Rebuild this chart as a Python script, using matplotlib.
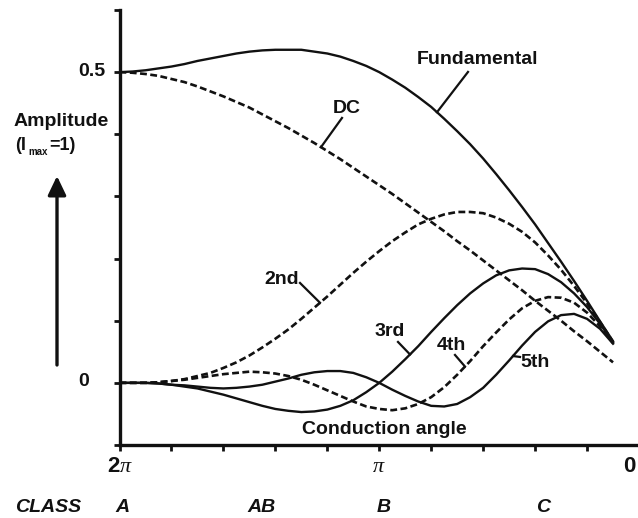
import matplotlib
matplotlib.use("Agg")
import matplotlib.pyplot as plt
import numpy as np
from matplotlib.patches import FancyArrowPatch

plt.rcParams['font.family'] = ['Liberation Sans', 'DejaVu Sans']
plt.rcParams['mathtext.fontset'] = 'custom'
plt.rcParams['mathtext.rm'] = 'Liberation Sans'
plt.rcParams['mathtext.bf'] = 'Liberation Sans:bold'
plt.rcParams['mathtext.it'] = 'Liberation Serif:italic'

W, H = 638, 518

# conduction angle in units of pi (2 pi at left -> 0 at right)
angle = [2.0, 1.95, 1.9, 1.85, 1.8, 1.75, 1.7, 1.65, 1.6, 1.55, 1.5, 1.45, 1.4,
         1.35, 1.3, 1.25, 1.2, 1.15, 1.1, 1.05, 1.0, 0.95, 0.9, 0.85, 0.8, 0.75,
         0.7, 0.65, 0.6, 0.55, 0.5, 0.45, 0.4, 0.35, 0.3, 0.25, 0.2, 0.15, 0.1]

dc = [0.500, 0.499, 0.497, 0.494, 0.489, 0.484, 0.477, 0.469, 0.461, 0.452,
      0.443, 0.432, 0.421, 0.410, 0.398, 0.386, 0.373, 0.360, 0.346, 0.332,
      0.318, 0.304, 0.289, 0.274, 0.259, 0.244, 0.228, 0.213, 0.197, 0.181,
      0.165, 0.149, 0.132, 0.116, 0.100, 0.083, 0.067, 0.050, 0.033]

fundamental = [0.500, 0.501, 0.503, 0.506, 0.509, 0.513, 0.518, 0.522, 0.526,
               0.530, 0.533, 0.535, 0.536, 0.536, 0.536, 0.533, 0.530, 0.525,
               0.518, 0.510, 0.500, 0.488, 0.475, 0.460, 0.444, 0.425, 0.405,
               0.384, 0.361, 0.336, 0.310, 0.283, 0.255, 0.225, 0.195, 0.164,
               0.132, 0.099, 0.067]

second = [0.000, 0.000, 0.000, 0.001, 0.003, 0.006, 0.011, 0.016, 0.024, 0.033,
          0.044, 0.057, 0.071, 0.086, 0.103, 0.121, 0.139, 0.158, 0.177, 0.195,
          0.212, 0.228, 0.242, 0.255, 0.264, 0.271, 0.275, 0.275, 0.273, 0.266,
          0.256, 0.243, 0.226, 0.205, 0.182, 0.156, 0.128, 0.098, 0.066]

third = [0.000, 0.000, 0.000, -0.001, -0.003, -0.006, -0.009, -0.014, -0.019,
         -0.025, -0.031, -0.037, -0.042, -0.045, -0.047, -0.046, -0.043, -0.037,
         -0.028, -0.015, 0.000, 0.018, 0.038, 0.059, 0.082, 0.104, 0.125, 0.144,
         0.160, 0.173, 0.181, 0.184, 0.183, 0.175, 0.162, 0.144, 0.122, 0.095,
         0.065]

fourth = [0.000, 0.000, 0.000, 0.001, 0.003, 0.005, 0.008, 0.011, 0.014, 0.016,
          0.018, 0.017, 0.015, 0.011, 0.005, -0.003, -0.012, -0.021, -0.030,
          -0.038, -0.042, -0.044, -0.041, -0.034, -0.023, -0.007, 0.013, 0.035,
          0.059, 0.081, 0.102, 0.120, 0.132, 0.138, 0.137, 0.129, 0.113, 0.091,
          0.064]

fifth = [0.000, 0.000, 0.000, -0.001, -0.003, -0.004, -0.006, -0.008, -0.009,
         -0.008, -0.006, -0.003, 0.002, 0.007, 0.013, 0.017, 0.019, 0.019, 0.016,
         0.009, 0.000, -0.011, -0.021, -0.030, -0.037, -0.038, -0.034, -0.023,
         -0.008, 0.013, 0.036, 0.060, 0.082, 0.099, 0.109, 0.111, 0.103, 0.087,
         0.063]

x_ticks = [2.0, 1.8, 1.6, 1.4, 1.2, 1.0, 0.8, 0.6, 0.4, 0.2, 0.0]
y_ticks = [-0.1, 0.0, 0.1, 0.2, 0.3, 0.4, 0.5, 0.6]

fig = plt.figure(figsize=(W / 100, H / 100), dpi=100)
ax = fig.add_axes([119.5 / W, 1 - 445 / H, (639 - 119.5) / W, 435 / H])
ax.set_xlim(2.0, 0.0)
ax.set_ylim(-0.1, 0.6)
ax.patch.set_visible(False)

solid = dict(color='#111111', lw=1.7, solid_joinstyle='round')
dashed = dict(color='#111111', lw=1.9, dashes=(2.6, 1.3))

ax.plot(angle, fundamental, **solid)
ax.plot(angle, dc, **dashed)
ax.plot(angle, second, **dashed)
ax.plot(angle, third, **solid)
ax.plot(angle, fourth, **dashed)
ax.plot(angle, fifth, **solid)

for s in ['top', 'right']:
    ax.spines[s].set_visible(False)
for s in ['left', 'bottom']:
    ax.spines[s].set_linewidth(2.4)
    ax.spines[s].set_color('#111111')
ax.set_xticks(x_ticks)
ax.set_yticks(y_ticks)
ax.tick_params(axis='both', direction='out', length=4.5, width=2.0,
               color='#111111', labelleft=False, labelbottom=False)


def px2data(x, y):
    return 2 - (x - 119.5) / 259.75, (382.9 - y) / 621.4


def ftxt(x, y, s, **kw):
    kw.setdefault('fontweight', 'bold')
    kw.setdefault('fontsize', 14)
    kw.setdefault('color', '#111111')
    fig.text(x / W, 1 - y / H, s, **kw)


# curve labels with leader lines
labels = [
    ("Fundamental", fundamental, (477, 60), (468, 72), 437),
    ("DC", dc, (347, 109), (342, 118), 321),
    ("2nd", second, (282, 280), (300, 283), 320),
    ("3rd", third, (390, 332), (398, 342), 410),
    ("4th", fourth, (451, 346), (455, 355), 465),
    ("5th", fifth, (535, 363), (520, 357), 513),
]
for name, series, tpos, lstart, lx in labels:
    tx, ty = px2data(*tpos)
    ax.text(tx, ty, name, ha='center', va='center', fontsize=14,
            fontweight='bold', color='#111111')
    sx, sy = px2data(*lstart)
    ex = px2data(lx, 0)[0]
    ey = np.interp(ex, angle[::-1], series[::-1])
    ax.plot([sx, ex], [sy, ey], color='#111111', lw=1.6, clip_on=False)

ftxt(384, 429, "Conduction angle", ha='center', va='center')

# y tick labels
ftxt(78, 72, "0.5", ha='left', va='center')
ftxt(78, 382, "0", ha='left', va='center')

# x tick labels
ftxt(120, 467, r"2$\pi$", ha='center', va='center', fontsize=16)
ftxt(379, 467, r"$\pi$", ha='center', va='center', fontsize=16,
     fontweight='normal')
ftxt(636, 467, "0", ha='right', va='center', fontsize=16)

# class row
ftxt(15, 507, "CLASS", ha='left', va='center', style='italic')
for cls, xc in [("A", 122), ("AB", 262), ("B", 384), ("C", 543)]:
    ftxt(xc, 507, cls, ha='center', va='center', style='italic')

# amplitude label
ftxt(61, 122, "Amplitude", ha='center', va='center')
ftxt(15, 146, "(I", ha='left', va='center', fontsize=13)
ftxt(28, 152, "max", ha='left', va='center', fontsize=7)
ftxt(49, 146, "=1)", ha='left', va='center', fontsize=13)

arrow = FancyArrowPatch((57 / W, 1 - 365 / H), (57 / W, 1 - 176 / H),
                        transform=fig.transFigure,
                        arrowstyle='-|>,head_length=1.15,head_width=0.55',
                        mutation_scale=10, lw=2.4, color='#111111',
                        shrinkA=0, shrinkB=0)
fig.patches.append(arrow)

fig.savefig("out.png", dpi=100)
